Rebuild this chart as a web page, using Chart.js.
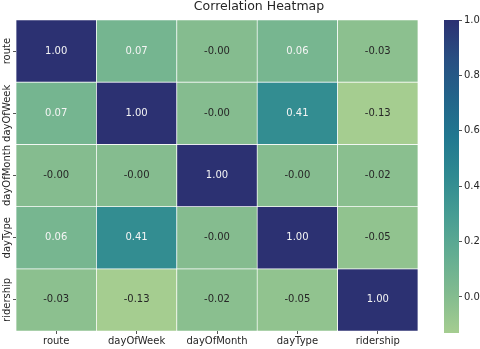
<!DOCTYPE html>
<html>
<head>
<meta charset="utf-8">
<script src="https://cdn.jsdelivr.net/npm/chart.js@4/dist/chart.umd.min.js"></script>
<style>
  body { margin: 0; background: #fff; }
  #wrap { position: relative; width: 480px; height: 349px; }
  #heat { position: absolute; left: 0; top: 0; }
  #bar { position: absolute; left: 420px; top: 0; }
</style>
</head>
<body>
<div id="wrap">
  <canvas id="heat" width="440" height="349"></canvas>
  <canvas id="bar" width="60" height="349"></canvas>
</div>
<script>
// Datos
const variables = ['route', 'dayOfWeek', 'dayOfMonth', 'dayType', 'ridership'];
const rowRoute      = [1.00, 0.07, -0.00, 0.06, -0.03];
const rowDayOfWeek  = [0.07, 1.00, -0.00, 0.41, -0.13];
const rowDayOfMonth = [-0.00, -0.00, 1.00, -0.00, -0.02];
const rowDayType    = [0.06, 0.41, -0.00, 1.00, -0.05];
const rowRidership  = [-0.03, -0.13, -0.02, -0.05, 1.00];
const matrix = [rowRoute, rowDayOfWeek, rowDayOfMonth, rowDayType, rowRidership];
const colorbarTicks = [0.0, 0.2, 0.4, 0.6, 0.8, 1.0];
const vmin = -0.13, vmax = 1.0;
const titulo = 'Correlation Heatmap';

// Paleta "crest"
const crest = ['#a5cd90', '#82bb8f', '#63ad92', '#479d93', '#2f8a91', '#217890', '#22648a', '#284f82', '#2c3172'];

function hexToRgb(h) {
    return [parseInt(h.substr(1, 2), 16), parseInt(h.substr(3, 2), 16), parseInt(h.substr(5, 2), 16)];
}
function rgbFor(v) {
    let t = (v - vmin) / (vmax - vmin);
    t = Math.max(0, Math.min(1, t));
    const p = t * (crest.length - 1);
    const i = Math.min(Math.floor(p), crest.length - 2);
    const f = p - i;
    const a = hexToRgb(crest[i]), b = hexToRgb(crest[i + 1]);
    return a.map((x, k) => Math.round(x + (b[k] - x) * f));
}
function colorFor(v) {
    return 'rgb(' + rgbFor(v).join(',') + ')';
}
// luminancia relativa (como seaborn)
function relLum(v) {
    const c = rgbFor(v).map(x => {
        x = x / 255;
        return x <= 0.03928 ? x / 12.92 : Math.pow((x + 0.055) / 1.055, 2.4);
    });
    return 0.2126 * c[0] + 0.7152 * c[1] + 0.0722 * c[2];
}
function fmt(v) {
    const neg = v < 0 || Object.is(v, -0);
    return (neg ? '-' : '') + Math.abs(v).toFixed(2);
}

const font = 'DejaVu Sans';

// Etiquetas en las celdas, eje Y y título
const cellLabels = {
    id: 'cellLabels',
    afterDatasetsDraw(chart) {
        const ctx = chart.ctx;
        ctx.save();
        ctx.font = '10px "' + font + '"';
        ctx.textAlign = 'center';
        ctx.textBaseline = 'middle';
        matrix.forEach((row, r) => {
            const meta = chart.getDatasetMeta(r);
            meta.data.forEach((el, c) => {
                const v = row[c];
                ctx.fillStyle = relLum(v) > 0.408 ? '#262626' : '#f5f5f5';
                ctx.fillText(fmt(v), el.x, (el.y + el.base) / 2);
            });
        });
        // etiquetas del eje Y, giradas
        const y = chart.scales.y;
        ctx.fillStyle = '#262626';
        variables.forEach((name, i) => {
            const py = y.getPixelForValue(i + 0.5);
            ctx.save();
            ctx.translate(y.left + 7, py);
            ctx.rotate(-Math.PI / 2);
            ctx.fillText(name, 0, 0);
            ctx.restore();
        });
        // título
        ctx.font = '12.5px "' + font + '"';
        ctx.textBaseline = 'alphabetic';
        ctx.fillText(titulo, 259, 10);
        ctx.restore();
    }
};

new Chart(document.getElementById('heat').getContext('2d'), {
    type: 'bar',
    data: {
        labels: variables,
        datasets: matrix.map((row, r) => ({
            label: variables[r],
            data: row.map(() => 1),
            backgroundColor: row.map(v => colorFor(v)),
            borderColor: '#ffffff',
            borderWidth: 0.7,
            borderSkipped: false,
            barPercentage: 1,
            categoryPercentage: 1
        }))
    },
    options: {
        responsive: false,
        animation: false,
        layout: { padding: { left: 0, right: 22, top: 20, bottom: 0 } },
        plugins: {
            legend: { display: false },
            tooltip: { enabled: false },
            title: { display: false }
        },
        scales: {
            x: {
                stacked: true,
                border: { display: false },
                grid: { display: true, drawOnChartArea: false, offset: false, tickLength: 3, color: '#555' },
                ticks: { color: '#262626', font: { family: font, size: 10 }, padding: 1, maxRotation: 0 },
                afterFit(axis) { axis.height = 18; }
            },
            y: {
                stacked: true,
                reverse: true,
                min: 0,
                max: 5,
                border: { display: false },
                grid: { display: true, drawOnChartArea: false, tickLength: 3, color: '#555' },
                afterBuildTicks(axis) {
                    axis.ticks = variables.map((_, i) => ({ value: i + 0.5 }));
                },
                ticks: {
                    font: { family: font, size: 10 },
                    padding: 0,
                    callback: () => ''
                },
                afterFit(axis) { axis.width = 16; }
            }
        }
    },
    plugins: [cellLabels]
});

// Barra de color
new Chart(document.getElementById('bar').getContext('2d'), {
    type: 'bar',
    data: {
        labels: [''],
        datasets: [{
            data: [[vmin, vmax]],
            backgroundColor(context) {
                const area = context.chart.chartArea;
                if (!area) return crest[0];
                const g = context.chart.ctx.createLinearGradient(0, area.bottom, 0, area.top);
                crest.forEach((c, i) => g.addColorStop(i / (crest.length - 1), c));
                return g;
            },
            borderWidth: 0,
            barPercentage: 1,
            categoryPercentage: 1
        }]
    },
    options: {
        responsive: false,
        animation: false,
        layout: { padding: { left: 24, right: 0, top: 20, bottom: 16 } },
        plugins: { legend: { display: false }, tooltip: { enabled: false } },
        scales: {
            x: { display: false },
            y: {
                position: 'right',
                min: vmin,
                max: vmax,
                border: { display: false },
                grid: { display: true, drawOnChartArea: false, tickLength: 3, color: '#555' },
                afterBuildTicks(axis) {
                    axis.ticks = colorbarTicks.map(v => ({ value: v }));
                },
                ticks: {
                    color: '#262626',
                    font: { family: font, size: 10 },
                    padding: 2,
                    callback: v => v.toFixed(1)
                },
                afterFit(axis) { axis.width = 21; }
            }
        }
    }
});
</script>
</body>
</html>
